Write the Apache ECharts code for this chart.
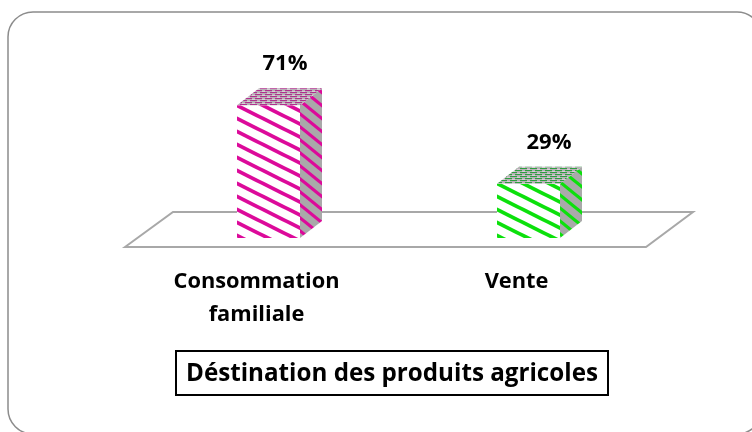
<!DOCTYPE html>
<html><head><meta charset="utf-8">
<style>html,body{margin:0;padding:0;background:#fff}#c{width:752px;height:432px}</style>
<script src="https://cdn.jsdelivr.net/npm/echarts@6/dist/echarts.min.js"></script>
</head><body><div id="c"></div>
<script>
const categories = ['Consommation\nfamiliale', 'Vente'];
const values = [71, 29];
const stripeColors = ['#dc0a9a', '#0ce00c'];
const topColors = ['#b0308e', '#2ea040'];
const labelShifts = [16.5, 20.5];
const titleText = 'Déstination des produits agricoles';

const FONT = '"Open Sans"';
const DEPTH_X = 22, DEPTH_Y = 17, BAR_W = 63;

function stripes(w, h, thick, color, bg) {
  const c = document.createElement('canvas');
  c.width = w; c.height = h;
  const g = c.getContext('2d');
  g.fillStyle = bg; g.fillRect(0, 0, w, h);
  g.strokeStyle = color; g.lineWidth = thick;
  for (const k of [-1, 0, 1]) {
    g.beginPath(); g.moveTo(-w, -h + k * h); g.lineTo(2 * w, 2 * h + k * h); g.stroke();
  }
  return { image: c, repeat: 'repeat' };
}
function dashes(color) {
  const c = document.createElement('canvas');
  c.width = 10; c.height = 4;
  const g = c.getContext('2d');
  g.fillStyle = '#b8b0b6'; g.fillRect(0, 0, 10, 4);
  g.fillStyle = color;
  g.fillRect(0, 0, 7, 1); g.fillRect(5, 2, 5, 1); g.fillRect(0, 2, 2, 1);
  g.fillStyle = '#d8d0d6'; g.fillRect(7, 1, 3, 1); g.fillRect(2, 3, 3, 1);
  return { image: c, repeat: 'repeat' };
}

const chart = echarts.init(document.getElementById('c'), null, { renderer: 'canvas' });
chart.setOption({
  animation: false,
  backgroundColor: '#fff',
  title: {
    text: titleText, left: 176, top: 351,
    padding: [10, 10, 8, 10],
    borderColor: '#000', borderWidth: 2,
    textStyle: { fontFamily: FONT, fontWeight: 'bold', fontSize: 24.2, color: '#000', lineHeight: 26 }
  },
  graphic: [
    { type: 'rect', z: 0, shape: { x: 8, y: 12, width: 754, height: 422, r: 25 },
      style: { fill: '#fff', stroke: '#8c8c8c', lineWidth: 1.5 } },
    { type: 'polygon', z: 1, shape: { points: [[125, 247], [173, 212], [693, 212], [646, 247]] },
      style: { fill: '#fff', stroke: '#a8a8a8', lineWidth: 2 } }
  ],
  grid: { left: 138.5, width: 520, top: 51, height: 187 },
  xAxis: {
    type: 'category', data: categories,
    axisLine: { show: false }, axisTick: { show: false },
    axisLabel: {
      interval: 0, margin: 27, padding: [0, 24, 0, 0],
      fontFamily: FONT, fontWeight: 'bold', fontSize: 21.8, lineHeight: 33, color: '#000'
    }
  },
  yAxis: { type: 'value', min: 0, max: 100, show: false },
  series: [{
    type: 'custom',
    data: values,
    z: 5,
    renderItem(params, api) {
      const i = params.dataIndex;
      const base = api.coord([i, 0]);
      const top = api.coord([i, api.value(1)]);
      const l = base[0] - BAR_W / 2, r = base[0] + BAR_W / 2;
      const b = base[1], t = top[1];
      const col = stripeColors[i];
      return {
        type: 'group',
        children: [
          { type: 'polygon', shape: { points: [[l, t], [r, t], [r, b], [l, b]] },
            style: { fill: stripes(26, 13, 3.8, col, '#fff') } },
          { type: 'polygon', shape: { points: [[r, t], [r + DEPTH_X, t - DEPTH_Y], [r + DEPTH_X, b - DEPTH_Y], [r, b]] },
            style: { fill: stripes(16, 13, 3.2, col, '#a9a9a9') } },
          { type: 'polygon', shape: { points: [[l, t], [l + DEPTH_X, t - DEPTH_Y], [r + DEPTH_X, t - DEPTH_Y], [r, t]] },
            style: { fill: dashes(topColors[i]) } },
          { type: 'text', style: {
              x: base[0] + labelShifts[i], y: t - 41,
              text: api.value(1) + '%', align: 'center', verticalAlign: 'middle',
              fontFamily: FONT, fontWeight: 'bold', fontSize: 22, fill: '#000' } }
        ]
      };
    }
  }]
});
</script></body></html>
